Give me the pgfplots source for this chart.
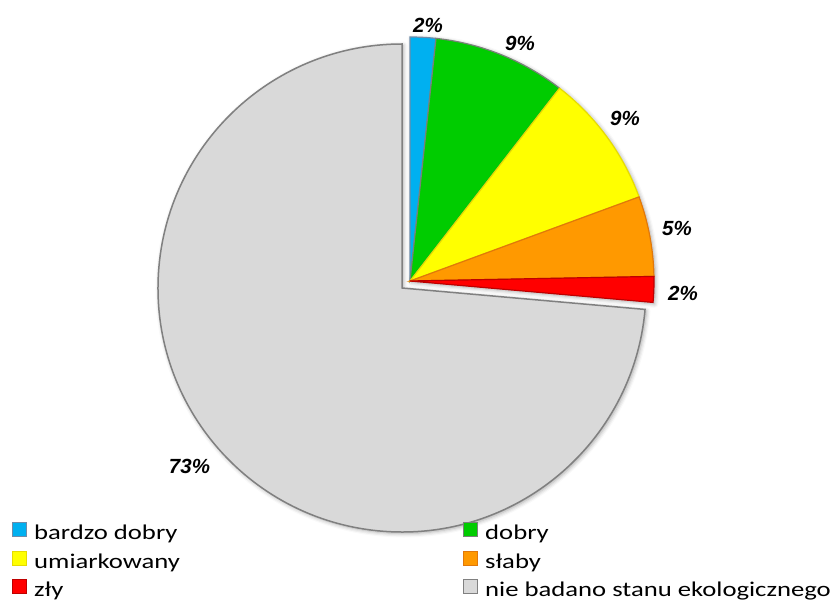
\documentclass[border=0pt]{standalone}
\usepackage{pgfplots}
\pgfplotsset{compat=1.18}
\usetikzlibrary{shadows.blur}
\usepackage{fontspec}
\setmainfont{Liberation Sans}
\newfontfamily\legfont[FakeStretch=1.27]{Carlito}
\definecolor{cBlue}{RGB}{0,176,240}
\definecolor{cBlueE}{RGB}{110,140,170}
\definecolor{cGreen}{RGB}{0,204,0}
\definecolor{cGreenE}{RGB}{120,130,120}
\definecolor{cYellow}{RGB}{255,255,0}
\definecolor{cYellowE}{RGB}{230,220,0}
\definecolor{cOrange}{RGB}{255,153,0}
\definecolor{cOrangeE}{RGB}{225,120,10}
\definecolor{cRed}{RGB}{255,0,0}
\definecolor{cRedE}{RGB}{190,0,0}
\definecolor{cGray}{RGB}{217,217,217}
\definecolor{cGrayE}{RGB}{128,128,128}
\newcommand\lab{\fontsize{20.5bp}{24bp}\selectfont\bfseries\itshape}
\tikzset{pieshadow/.style={blur shadow={shadow xshift=1.5bp,shadow yshift=-1.5bp,shadow blur radius=4bp,shadow opacity=35}}}
\begin{document}
\begin{tikzpicture}
\begin{axis}[x=1bp,y=1bp,xmin=0,xmax=836,ymin=0,ymax=601,
  hide axis,clip=false,
  legend columns=2,
  legend cell align=left,
  legend image code/.code={\filldraw[#1] (0bp,-2bp) rectangle (14bp,12bp);},
  legend style={draw=none,fill=none,at={(axis cs:12,79)},anchor=north west,
    inner sep=0pt,column sep=7bp,row sep=6bp,
    nodes={inner sep=0pt,text height=15bp,text depth=5bp},
    font=\legfont\fontsize{21bp}{24bp}\selectfont}]
% gray slice (73%)
\filldraw[pieshadow,fill=cGray,draw=cGrayE,line width=1.5bp]
  (axis cs:402,313) -- ++(-5.04:244bp) arc[start angle=-5.04,end angle=-270,radius=244bp] -- cycle;
% shadow of exploded part
\path[pieshadow,fill=white]
  (axis cs:410,320) -- ++(90:244bp) arc[start angle=90,end angle=-5.04,radius=244bp] -- cycle;
% exploded slices
\filldraw[fill=cBlue,draw=cBlueE,line width=1.2bp]
  (axis cs:410,320) -- ++(90:244bp) arc[start angle=90,end angle=83.88,radius=244bp] -- cycle;
\filldraw[fill=cGreen,draw=cGreenE,line width=1.2bp]
  (axis cs:410,320) -- ++(83.88:244bp) arc[start angle=83.88,end angle=52.2,radius=244bp] -- cycle;
\filldraw[fill=cYellow,draw=cYellowE,line width=1.2bp]
  (axis cs:410,320) -- ++(52.2:244bp) arc[start angle=52.2,end angle=20.16,radius=244bp] -- cycle;
\filldraw[fill=cOrange,draw=cOrangeE,line width=1.2bp]
  (axis cs:410,320) -- ++(20.16:244bp) arc[start angle=20.16,end angle=1.08,radius=244bp] -- cycle;
\filldraw[fill=cRed,draw=cRedE,line width=1.2bp]
  (axis cs:410,320) -- ++(1.08:244bp) arc[start angle=1.08,end angle=-5.04,radius=244bp] -- cycle;
% labels
\node at (axis cs:428,576) {\lab 2\%};
\node at (axis cs:520,558) {\lab 9\%};
\node at (axis cs:625,483) {\lab 9\%};
\node at (axis cs:677,373) {\lab 5\%};
\node at (axis cs:683,308) {\lab 2\%};
\node at (axis cs:189.5,134.5) {\lab 73\%};
% legend
\addlegendimage{fill=cBlue,draw=cBlueE,line width=1bp}
\addlegendentry{\makebox[422bp][l]{bardzo dobry}}
\addlegendimage{fill=cGreen,draw=cGreenE,line width=1bp}
\addlegendentry{dobry}
\addlegendimage{fill=cYellow,draw=cYellowE,line width=1bp}
\addlegendentry{\makebox[422bp][l]{umiarkowany}}
\addlegendimage{fill=cOrange,draw=cOrangeE,line width=1bp}
\addlegendentry{słaby}
\addlegendimage{fill=cRed,draw=cRedE,line width=1bp}
\addlegendentry{\makebox[422bp][l]{zły}}
\addlegendimage{fill=cGray,draw=cGrayE,line width=1bp}
\addlegendentry{nie badano stanu ekologicznego}
\end{axis}
\pgfresetboundingbox
\path[use as bounding box] (0,0) rectangle (836bp,601bp);
\end{tikzpicture}
\end{document}
